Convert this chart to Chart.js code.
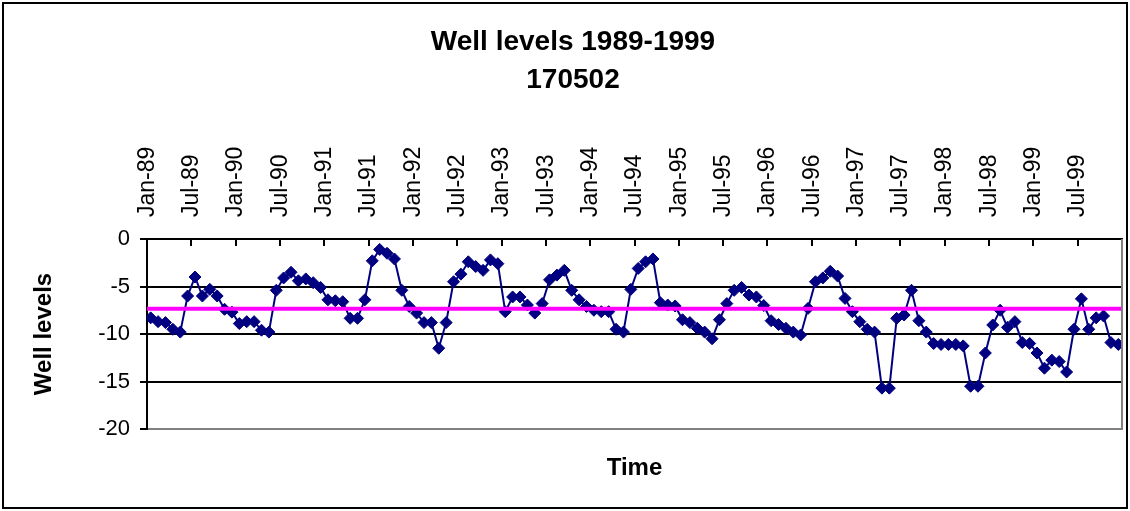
<!DOCTYPE html>
<html>
<head>
<meta charset="utf-8">
<title>Well levels 1989-1999</title>
<script src="https://cdn.jsdelivr.net/npm/chart.js@4.4.1/dist/chart.umd.min.js"></script>
<style>
  html, body { margin: 0; padding: 0; background: #fff; }
  #wrap { width: 1130px; height: 511px; }
</style>
</head>
<body>
<div id="wrap"><canvas id="wellChart" width="1130" height="511"></canvas></div>
<script>
// tick labels along the top axis, one every 6 months
const tickLabels = [
  "Jan-89", "Jul-89", "Jan-90", "Jul-90", "Jan-91", "Jul-91", "Jan-92", "Jul-92",
  "Jan-93", "Jul-93", "Jan-94", "Jul-94", "Jan-95", "Jul-95", "Jan-96", "Jul-96",
  "Jan-97", "Jul-97", "Jan-98", "Jul-98", "Jan-99", "Jul-99"
];

// monthly well level readings, Jan-89 .. Dec-99
const levels = [
  -8.3, -8.7, -8.8, -9.5, -9.8, -6.0, -4.0, -6.0, -5.3, -6.0, -7.4, -7.7,
  -8.9, -8.7, -8.7, -9.6, -9.8, -5.4, -4.1, -3.5, -4.4, -4.2, -4.6, -5.1,
  -6.4, -6.5, -6.6, -8.35, -8.35, -6.4, -2.3, -1.1, -1.5, -2.1, -5.4, -7.1,
  -7.8, -8.8, -8.8, -11.5, -8.8, -4.5, -3.7, -2.4, -2.9, -3.3, -2.2, -2.6,
  -7.65, -6.1, -6.1, -6.95, -7.8, -6.8, -4.3, -3.8, -3.3, -5.4, -6.4, -7.1,
  -7.5, -7.65, -7.65, -9.5, -9.8, -5.3, -3.1, -2.4, -2.1, -6.7, -6.95, -7.05,
  -8.5, -8.8, -9.4, -9.8, -10.5, -8.5, -6.8, -5.4, -5.1, -5.9, -6.1, -7.0,
  -8.6, -9.0, -9.4, -9.8, -10.1, -7.3, -4.5, -4.1, -3.4, -3.9, -6.25, -7.65,
  -8.7, -9.5, -9.8, -15.7, -15.7, -8.35, -8.0, -5.4, -8.6, -9.8, -11.0, -11.1,
  -11.1, -11.1, -11.25, -15.5, -15.5, -12.0, -9.05, -7.5, -9.3, -8.7, -10.9, -11.0,
  -12.0, -13.6, -12.75, -12.9, -14.0, -9.5, -6.3, -9.5, -8.3, -8.1, -10.9, -11.1
];

const meanLevel = -7.35;
const yTicks = [0, -5, -10, -15, -20];

const FONT = "'Liberation Sans', Arial, sans-serif";
const xMin = -0.5;
const xMax = levels.length - 0.5;

// white page, outer frame, inward tick marks on the top axis, grey right edge
const framePlugin = {
  id: "frame",
  beforeDraw(chart) {
    const c = chart.ctx;
    c.save();
    c.fillStyle = "#fff";
    c.fillRect(0, 0, chart.width, chart.height);
    c.restore();
  },
  afterDraw(chart) {
    const c = chart.ctx;
    const area = chart.chartArea;
    const xs = chart.scales.x;
    c.save();
    c.strokeStyle = "#000";
    c.lineWidth = 2;
    xs.ticks.forEach(t => {
      const px = Math.round(xs.getPixelForValue(t.value));
      c.beginPath();
      c.moveTo(px, area.top);
      c.lineTo(px, area.top + 7);
      c.stroke();
    });
    c.strokeStyle = "#808080";
    c.beginPath();
    c.moveTo(area.right, area.top);
    c.lineTo(area.right, area.bottom + 1);
    c.stroke();
    c.strokeStyle = "#000";
    c.strokeRect(3, 3, chart.width - 6, chart.height - 6);
    c.restore();
  }
};

const ctx = document.getElementById("wellChart").getContext("2d");

const chart = new Chart(ctx, {
  type: "line",
  data: {
    datasets: [
      {
        label: "Mean",
        data: [{ x: xMin, y: meanLevel }, { x: xMax, y: meanLevel }],
        borderColor: "#FF00FF",
        borderWidth: 4,
        pointRadius: 0,
        order: 0
      },
      {
        label: "170502",
        data: levels.map((v, i) => ({ x: i, y: v })),
        borderColor: "#000080",
        backgroundColor: "#000080",
        borderWidth: 2,
        pointStyle: "rectRot",
        pointRadius: 6,
        pointBorderWidth: 1,
        order: 1
      }
    ]
  },
  plugins: [framePlugin],
  options: {
    responsive: false,
    animation: false,
    layout: { padding: { left: 24, right: 8, top: 0, bottom: 0 } },
    plugins: {
      legend: { display: false },
      tooltip: { enabled: false },
      title: {
        display: true,
        text: ["Well levels 1989-1999", "170502"],
        color: "#000",
        font: { family: FONT, size: 28, weight: "bold", lineHeight: "38px" },
        padding: { top: 23, bottom: 0 }
      }
    },
    scales: {
      x: {
        type: "linear",
        position: "top",
        min: xMin,
        max: xMax,
        afterBuildTicks: s => {
          s.ticks = tickLabels.map((_, k) => ({ value: xMin + 6 * k }));
        },
        afterFit: s => { s.height = 140; },
        ticks: {
          autoSkip: false,
          minRotation: 90,
          maxRotation: 90,
          padding: 22,
          labelOffset: 28,
          color: "#000",
          font: { family: FONT, size: 23 },
          callback: (v, i) => tickLabels[i]
        },
        grid: { drawOnChartArea: false, drawTicks: false },
        border: { color: "#000", width: 2 }
      },
      x2: {
        type: "linear",
        position: "bottom",
        min: xMin,
        max: xMax,
        afterFit: s => { s.height = 82; },
        ticks: { display: false },
        grid: { display: false },
        border: { display: false },
        title: {
          display: true,
          text: "Time",
          color: "#000",
          font: { family: FONT, size: 24, weight: "bold" },
          padding: { top: 0, bottom: 28 }
        }
      },
      y: {
        min: -20,
        max: 0,
        afterBuildTicks: s => {
          s.ticks = yTicks.map(v => ({ value: v }));
        },
        afterFit: s => { s.width = 123; },
        ticks: {
          color: "#000",
          padding: 10,
          font: { family: FONT, size: 22 }
        },
        grid: {
          color: c => (c.tick && c.tick.value === -20 ? "#808080" : "#000"),
          lineWidth: 2,
          tickLength: 7,
          tickColor: "#000"
        },
        border: { color: "#000", width: 2 },
        title: {
          display: true,
          text: "Well levels",
          color: "#000",
          font: { family: FONT, size: 24, weight: "bold" },
          padding: { top: 6, bottom: 0 }
        }
      }
    }
  }
});
</script>
</body>
</html>
